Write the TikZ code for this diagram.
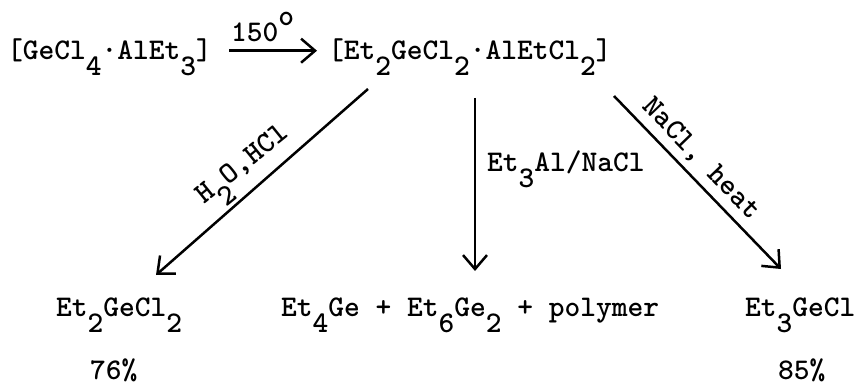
\documentclass[tikz,border=0pt]{standalone}
\usepackage{fontspec}
\usetikzlibrary{arrows.meta}
\tikzset{
 txt/.style={inner sep=0pt,font=\fontsize{30}{34}\selectfont\ttfamily\bfseries,anchor=base west,text=black},
 rxn/.style={line width=2.5pt,-{Straight Barb[length=14pt,width=24pt,line width=2.5pt]}}
}
\newcommand{\sbs}[1]{\raisebox{-16pt}{#1}}
\begin{document}
\begin{tikzpicture}[x=1pt,y=-1pt]
\useasboundingbox (0,0) rectangle (859,382);
\fill[white] (0,0) rectangle (859,382);
\node[txt] (a) at (7,60) {[GeCl\sbs{4}·AlEt\sbs{3}]};
\node[txt] (b) at (328,60) {[Et\sbs{2}GeCl\sbs{2}·AlEtCl\sbs{2}]};
\node[txt] (t) at (231,42) {150\raisebox{16.5pt}{o}};
\coordinate (a1) at (229,50.7); \coordinate (a2) at (317,50.7);
\draw[rxn] (a1) -- (a2);
\coordinate (l1) at (368,89); \coordinate (l2) at (156,275);
\draw[rxn] (l1) -- (l2);
\coordinate (m1) at (475,98); \coordinate (m2) at (475,271);
\draw[rxn] (m1) -- (m2);
\coordinate (r1) at (614,96); \coordinate (r2) at (781,269);
\draw[rxn] (r1) -- (r2);
\node[txt,rotate=39] (h) at (204,205) {H\sbs{2}O,HCl};
\node[txt] (e) at (487,172) {Et\sbs{3}Al/NaCl};
\node[txt,rotate=-46] (n) at (641,107.5) {NaCl, heat};
\node[txt] (p1) at (56,316) {Et\sbs{2}GeCl\sbs{2}};
\node[txt] (p2) at (281,316) {Et\sbs{4}Ge + Et\sbs{6}Ge\sbs{2} + polymer};
\node[txt] (p3) at (745,316) {Et\sbs{3}GeCl};
\node[txt] (y1) at (90,379) {76\%};
\node[txt] (y2) at (778,379) {85\%};
\end{tikzpicture}
\end{document}
